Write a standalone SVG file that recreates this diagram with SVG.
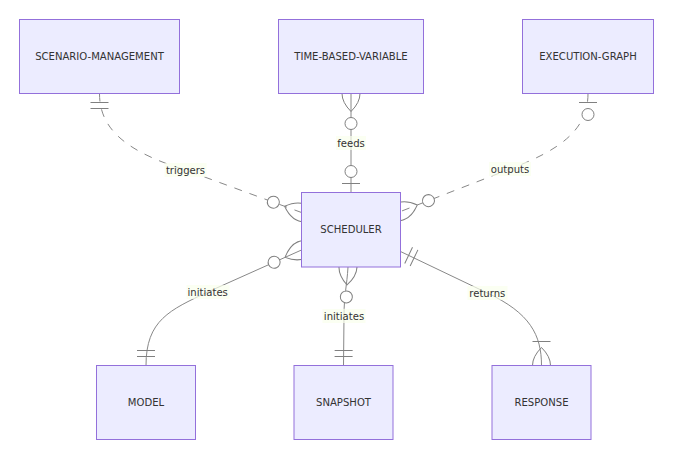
<svg xmlns="http://www.w3.org/2000/svg" width="681" height="465" viewBox="0 0 681 465">
<style>
.box{fill:#ECECFF;stroke:#9370DB;stroke-width:1}
.name{font-family:"DejaVu Sans Condensed","DejaVu Sans",sans-serif;font-stretch:condensed;font-size:11.2px;fill:#333;text-anchor:middle;dominant-baseline:central}
.rel{fill:none;stroke:#888;stroke-width:1}
.dash{stroke-dasharray:8,8}
.lbl{font-family:"DejaVu Sans Condensed","DejaVu Sans",sans-serif;font-stretch:condensed;font-size:11.2px;fill:#333;text-anchor:middle;dominant-baseline:central}
.lblbg{fill:#f9ffec;opacity:0.7}
.mk{fill:none;stroke:gray;stroke-width:1}
.mkc{fill:#fff;stroke:gray;stroke-width:1}
</style>
<defs>
<marker id="ONLY_ONE_START" markerUnits="userSpaceOnUse" refX="0" refY="9" markerWidth="18" markerHeight="18" orient="auto" overflow="visible"><path class="mk" d="M9,0 L9,18 M15,0 L15,18"/></marker>
<marker id="ONLY_ONE_END" markerUnits="userSpaceOnUse" refX="18" refY="9" markerWidth="18" markerHeight="18" orient="auto" overflow="visible"><path class="mk" d="M3,0 L3,18 M9,0 L9,18"/></marker>
<marker id="ZERO_OR_ONE_START" markerUnits="userSpaceOnUse" refX="0" refY="9" markerWidth="30" markerHeight="18" orient="auto" overflow="visible"><circle class="mkc" cx="21" cy="9" r="6"/><path class="mk" d="M9,0 L9,18"/></marker>
<marker id="ZERO_OR_ONE_END" markerUnits="userSpaceOnUse" refX="30" refY="9" markerWidth="30" markerHeight="18" orient="auto" overflow="visible"><circle class="mkc" cx="9" cy="9" r="6"/><path class="mk" d="M21,0 L21,18"/></marker>
<marker id="ONE_OR_MORE_END" markerUnits="userSpaceOnUse" refX="27" refY="18" markerWidth="45" markerHeight="36" orient="auto" overflow="visible"><path class="mk" d="M3,9 L3,27 M9,18 Q27,0 45,18 Q27,36 9,18"/></marker>
<marker id="ZERO_OR_MORE_START" markerUnits="userSpaceOnUse" refX="18" refY="18" markerWidth="57" markerHeight="36" orient="auto" overflow="visible"><circle class="mkc" cx="48" cy="18" r="6"/><path class="mk" d="M0,18 Q18,0 36,18 Q18,36 0,18"/></marker>
<marker id="ZERO_OR_MORE_END" markerUnits="userSpaceOnUse" refX="39" refY="18" markerWidth="57" markerHeight="36" orient="auto" overflow="visible"><circle class="mkc" cx="9" cy="18" r="6"/><path class="mk" d="M21,18 Q39,0 57,18 Q39,36 21,18"/></marker>
</defs>
<rect width="681" height="465" fill="#fff"/>
<g id="connectors">
<path id="e-triggers" class="rel dash" d="M99.5,93.5 C99.5,125 120,150 185.5,170 L301.5,212.5" marker-start="url(#ONLY_ONE_START)" marker-end="url(#ZERO_OR_MORE_END)"/>
<path id="e-feeds" class="rel" d="M351,93.5 L351,192.5" marker-start="url(#ZERO_OR_MORE_START)" marker-end="url(#ZERO_OR_ONE_END)"/>
<path id="e-outputs" class="rel dash" d="M588,93.5 C588,130 560,150 510,169 L400.5,211.5" marker-start="url(#ZERO_OR_ONE_START)" marker-end="url(#ZERO_OR_MORE_END)"/>
<path id="e-init-model" class="rel" d="M146,365.5 C146,320 170,310 207.7,292 L301.5,250" marker-start="url(#ONLY_ONE_START)" marker-end="url(#ZERO_OR_MORE_END)"/>
<path id="e-init-snapshot" class="rel" d="M348,267 C347,285 344,295 344,316 L343.5,365.5" marker-start="url(#ZERO_OR_MORE_START)" marker-end="url(#ONLY_ONE_END)"/>
<path id="e-returns" class="rel" d="M400.5,251.5 L487.3,293 C530,313 541.5,335 541.5,365.5" marker-start="url(#ONLY_ONE_START)" marker-end="url(#ONE_OR_MORE_END)"/>
<g id="labels">
<rect class="lblbg" x="164.5" y="163" width="42" height="14"/><text class="lbl" x="185.5" y="170">triggers</text>
<rect class="lblbg" x="336" y="136" width="30" height="14"/><text class="lbl" x="351" y="143">feeds</text>
<rect class="lblbg" x="489" y="162" width="42" height="14"/><text class="lbl" x="510" y="169">outputs</text>
<rect class="lblbg" x="186.5" y="285" width="43" height="14"/><text class="lbl" x="207.7" y="292">initiates</text>
<rect class="lblbg" x="322.5" y="309" width="43" height="14"/><text class="lbl" x="344" y="316">initiates</text>
<rect class="lblbg" x="467.5" y="286" width="40" height="14"/><text class="lbl" x="487.3" y="293">returns</text>
</g>
</g>
<g id="SCENARIO-MANAGEMENT"><rect class="box" x="19.5" y="19.5" width="160" height="74"/><text class="name" x="99.5" y="56.5">SCENARIO-MANAGEMENT</text></g>
<g id="TIME-BASED-VARIABLE"><rect class="box" x="278.5" y="19.5" width="145" height="74"/><text class="name" x="351" y="56.5">TIME-BASED-VARIABLE</text></g>
<g id="EXECUTION-GRAPH"><rect class="box" x="522.5" y="19.5" width="131" height="74"/><text class="name" x="588" y="56.5">EXECUTION-GRAPH</text></g>
<g id="SCHEDULER"><rect class="box" x="301.5" y="192.5" width="99" height="74.5"/><text class="name" x="351" y="229.75">SCHEDULER</text></g>
<g id="MODEL"><rect class="box" x="96.5" y="365.5" width="99" height="74"/><text class="name" x="146" y="402.5">MODEL</text></g>
<g id="SNAPSHOT"><rect class="box" x="294" y="365.5" width="99" height="74"/><text class="name" x="343.5" y="402.5">SNAPSHOT</text></g>
<g id="RESPONSE"><rect class="box" x="492" y="365.5" width="99" height="74"/><text class="name" x="541.5" y="402.5">RESPONSE</text></g>
</svg>
